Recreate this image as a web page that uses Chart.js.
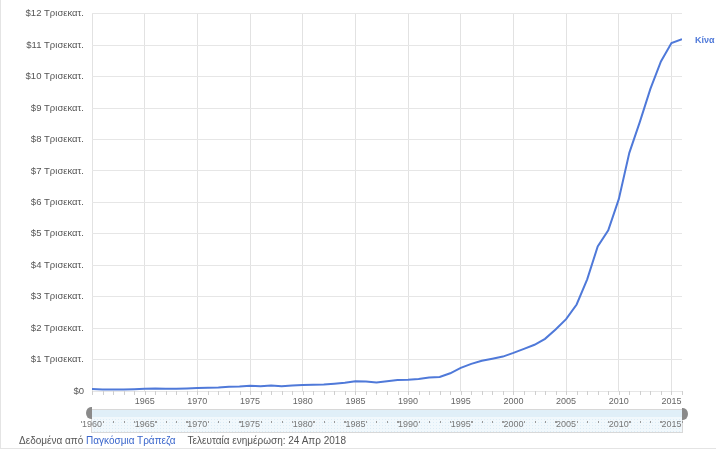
<!DOCTYPE html>
<html>
  <head>
    <meta charset="utf-8" />
    <title>ΑΕΠ Κίνα</title>
    <script src="https://cdn.jsdelivr.net/npm/chart.js"></script>
    <style>
      * {
        box-sizing: border-box;
        margin: 0;
        padding: 0;
      }
      body {
        width: 716px;
        height: 449px;
        background: #fff;
        font-family: Arial, "Liberation Sans", sans-serif;
        overflow: hidden;
      }
      #wrap {
        position: relative;
        width: 716px;
        height: 449px;
        border-left: 1px solid #e4e4e4;
        border-bottom: 1px solid #e4e4e4;
      }
      #footer {
        position: absolute;
        left: 18px;
        top: 435px;
        font-size: 10px;
        color: #555;
        white-space: nowrap;
      }
      #footer .src {
        color: #3a66cc;
      }
      #footer .upd {
        margin-left: 12px;
      }
    </style>
  </head>
  <body>
    <div id="wrap">
      <canvas id="gdp" width="715" height="448"></canvas>
      <div id="footer">
        Δεδομένα από <span class="src">Παγκόσμια Τράπεζα</span
        ><span class="upd">Τελευταία ενημέρωση: 24 Απρ 2018</span>
      </div>
    </div>

    <script>
      // ΑΕΠ Κίνας σε τρισεκατ. δολάρια
      const years = [];
      for (let y = 1960; y <= 2016; y++) years.push(y);
      const gdp = [
        0.060, 0.050, 0.047, 0.051, 0.059, 0.070, 0.077, 0.073, 0.071, 0.080,
        0.093, 0.100, 0.114, 0.139, 0.144, 0.163, 0.154, 0.175, 0.150, 0.178,
        0.191, 0.196, 0.205, 0.230, 0.260, 0.309, 0.301, 0.273, 0.312, 0.348,
        0.361, 0.383, 0.427, 0.445, 0.564, 0.735, 0.864, 0.962, 1.029, 1.094,
        1.211, 1.339, 1.471, 1.660, 1.955, 2.286, 2.752, 3.552, 4.598, 5.110,
        6.101, 7.573, 8.561, 9.607, 10.482, 11.065, 11.191,
      ];
      const seriesName = "Κίνα";
      const selectorYears = [1960, 1965, 1970, 1975, 1980, 1985, 1990, 1995, 2000, 2005, 2010, 2015];

      const lineColor = "#4f79d9";

      // yearly minor ticks, range selector and series label
      const extras = {
        id: "extras",
        afterDraw(chart) {
          const c = chart.ctx;
          const x = chart.scales.x;
          const y = chart.scales.y;
          const area = chart.chartArea;
          c.save();

          // minor ticks under the axis
          c.strokeStyle = "#cfcfcf";
          c.lineWidth = 1;
          years.forEach((yr) => {
            const px = Math.round(x.getPixelForValue(yr)) + 0.5;
            c.beginPath();
            c.moveTo(px, area.bottom);
            c.lineTo(px, area.bottom + 4);
            c.stroke();
          });

          // range selector
          const sx0 = area.left - 1;
          const sx1 = area.right + 1;
          const sy0 = area.bottom + 18;
          const sy1 = area.bottom + 42;
          c.fillStyle = "#f1f8fc";
          c.fillRect(sx0, sy0, sx1 - sx0, sy1 - sy0);
          c.fillStyle = "#e0eff8";
          c.fillRect(sx0, sy0, sx1 - sx0, 8);
          c.fillStyle = "#dcecf6";
          for (let dx = sx0; dx < sx1; dx += 3) {
            for (let dy = sy0 + 10; dy < sy1; dy += 3) {
              c.fillRect(dx, dy, 1, 1);
            }
          }
          c.strokeStyle = "#d8d8d8";
          c.strokeRect(sx0 + 0.5, sy0 + 0.5, sx1 - sx0 - 1, sy1 - sy0 - 1);

          c.fillStyle = "#9a9a9a";
          years.forEach((yr) => {
            if (yr % 5 === 0) return;
            const px = Math.round(x.getPixelForValue(yr));
            c.fillRect(px, sy0 + 12, 1, 2);
          });
          selectorYears.forEach((yr) => {
            const px = Math.round(x.getPixelForValue(yr));
            c.fillRect(px - 11, sy0 + 12, 1, 2);
            c.fillRect(px + 11, sy0 + 12, 1, 2);
          });

          c.font = "9px Arial";
          c.fillStyle = "#777";
          c.textAlign = "center";
          c.textBaseline = "middle";
          selectorYears.forEach((yr) => {
            c.fillText(String(yr), x.getPixelForValue(yr), sy0 + 16);
          });

          // handles
          c.fillStyle = "#8a8a8a";
          c.beginPath();
          c.ellipse(sx0, sy0 + 4, 5, 6, 0, Math.PI * 0.5, Math.PI * 1.5);
          c.lineTo(sx0 + 1, sy0 - 2);
          c.lineTo(sx0 + 1, sy0 + 10);
          c.fill();
          c.beginPath();
          c.ellipse(sx1, sy0 + 5, 5, 6, 0, -Math.PI * 0.5, Math.PI * 0.5);
          c.lineTo(sx1 - 1, sy0 + 11);
          c.lineTo(sx1 - 1, sy0 - 1);
          c.fill();

          // series label at the end of the line
          const last = gdp.length - 1;
          c.font = "bold 9px Arial";
          c.fillStyle = lineColor;
          c.textAlign = "left";
          c.fillText(seriesName, area.right + 13, y.getPixelForValue(gdp[last]) + 1);

          c.restore();
        },
      };

      new Chart(document.getElementById("gdp"), {
        type: "line",
        data: {
          datasets: [
            {
              label: seriesName,
              data: years.map((yr, i) => ({ x: yr, y: gdp[i] })),
              borderColor: lineColor,
              borderWidth: 2,
              pointRadius: 0,
              tension: 0,
              fill: false,
            },
          ],
        },
        options: {
          responsive: false,
          animation: false,
          events: [],
          layout: {
            padding: { left: 0, right: 34, top: 10, bottom: 0 },
          },
          plugins: {
            legend: { display: false },
            tooltip: { enabled: false },
          },
          scales: {
            x: {
              type: "linear",
              min: 1960,
              max: 2016,
              afterFit: (s) => {
                s.height = 57;
              },
              border: { display: false },
              grid: {
                color: "#e2e2e2",
                drawTicks: false,
              },
              ticks: {
                stepSize: 5,
                includeBounds: false,
                padding: 5,
                maxRotation: 0,
                autoSkip: false,
                color: "#666",
                font: { family: "Arial", size: 9 },
                callback: (v) => (v === 1960 ? "" : String(v)),
              },
            },
            y: {
              min: 0,
              max: 12,
              afterFit: (s) => {
                s.width = 91;
              },
              border: { display: false },
              grid: {
                color: "#e6e6e6",
                drawTicks: false,
              },
              ticks: {
                stepSize: 1,
                padding: 8,
                color: "#555",
                font: { family: "Arial", size: 9.5 },
                callback: (v) => (v === 0 ? "$0" : "$" + v + " Τρισεκατ."),
              },
            },
          },
        },
        plugins: [extras],
      });
    </script>
  </body>
</html>
